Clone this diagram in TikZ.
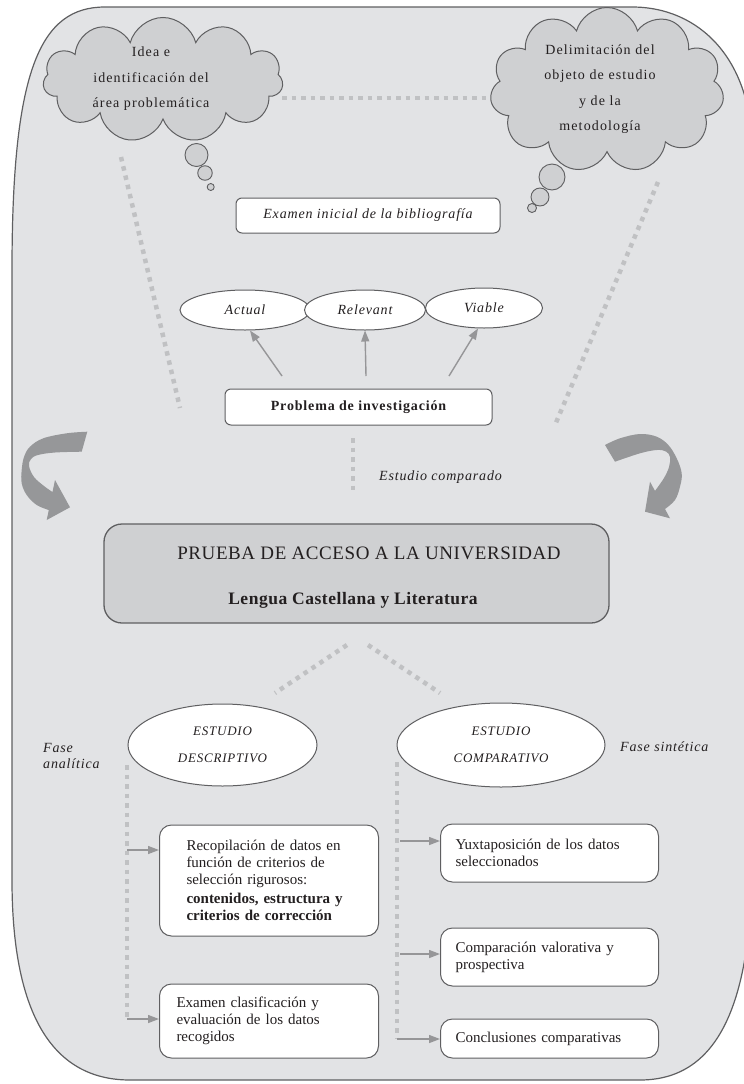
\documentclass[tikz,border=0pt]{standalone}
\usepackage{fontspec}
\setmainfont{Liberation Serif}
\newfontfamily\spaced[LetterSpace=6]{Liberation Serif}
\newfontfamily\spacedsm[LetterSpace=3]{Liberation Serif}
\newfontfamily\wide[LetterSpace=8]{Liberation Serif}
\usetikzlibrary{shapes.symbols,shapes.geometric,arrows.meta,calc}
\definecolor{bgfill}{RGB}{226,227,229}
\definecolor{frameline}{RGB}{95,95,97}
\definecolor{cloudfill}{RGB}{207,208,210}
\definecolor{dotgray}{RGB}{192,193,195}
\definecolor{arrgray}{RGB}{150,150,152}
\definecolor{ribbon}{RGB}{150,151,153}
\definecolor{txt}{RGB}{35,31,32}
\begin{document}
\begin{tikzpicture}[x=1pt,y=-1pt,
  frame/.style={draw=frameline, line width=1.2pt, fill=bgfill},
  cloudbox/.style={cloud, cloud puffs=11, cloud ignores aspect, draw=frameline, line width=1pt, fill=cloudfill, inner sep=0pt},
  bubble/.style={circle, draw=frameline, line width=0.9pt, fill=cloudfill, inner sep=0pt},
  dots/.style={dotgray, line width=4.5pt, dash pattern=on 4.5pt off 5pt},
  whitebox/.style={rectangle, rounded corners=6pt, draw=frameline, line width=1pt, fill=white, text=txt},
  softbox/.style={whitebox, rounded corners=12pt, align=left, anchor=west},
  oval/.style={ellipse, draw=frameline, line width=1pt, fill=white, inner sep=0pt, text=txt},
  garrow/.style={arrgray, line width=1.4pt, -{Triangle[length=11pt,width=8pt]}},
  label/.style={text=txt, inner sep=0pt}
]
\useasboundingbox (0,0) rectangle (744,1084);
\clip (0,0) rectangle (744,1084);

% outer frame
\draw[frame] (105,7) -- (632,7) .. controls (700,7) and (752,60) .. (752,150)
  -- (752,860) .. controls (752,1010) and (715,1080) .. (640,1080)
  -- (130,1080) .. controls (50,1080) and (12,1010) .. (12,880)
  -- (12,270) .. controls (12,70) and (40,7) .. (105,7) -- cycle;

% dotted guide lines
\coordinate (h1) at (282,98);  \coordinate (h2) at (490,98);
\coordinate (l1) at (121,157); \coordinate (l2) at (180,408);
\coordinate (r1) at (658,182); \coordinate (r2) at (555,425);
\coordinate (v1) at (353,438); \coordinate (v2) at (353,492);
\coordinate (d1) at (347,645); \coordinate (d2) at (275,693);
\coordinate (e1) at (368,645); \coordinate (e2) at (440,693);
\draw[dots] (h1) -- (h2);
\draw[dots] (l1) -- (l2);
\draw[dots] (r1) -- (r2);
\draw[dots] (v1) -- (v2);
\draw[dots] (d1) -- (d2);
\draw[dots] (e1) -- (e2);

% clouds
\node[cloudbox, minimum width=240pt, minimum height=125pt] (c1) at (163,80) {};
\node[label, align=center, font=\wide\fontsize{14}{25.5}\selectfont] (t1) at (151,79)
  {Idea e\\identificación del\\área problemática};
\node[bubble, minimum size=23pt] (b1) at (196.5,155) {};
\node[bubble, minimum size=14.5pt] (b2) at (205,173) {};
\node[bubble, minimum size=7pt] (b3) at (210.7,187) {};

\node[cloudbox, minimum width=234pt, minimum height=165pt] (c2) at (607,90) {};
\node[label, align=center, font=\wide\fontsize{14}{25.5}\selectfont] (t2) at (600,89)
  {Delimitación del\\objeto de estudio\\y de la\\metodología};
\node[bubble, minimum size=26pt] (b4) at (552,177) {};
\node[bubble, minimum size=18pt] (b5) at (540,197) {};
\node[bubble, minimum size=9pt] (b6) at (532,208) {};

% examen inicial
\node[whitebox, minimum width=264pt, minimum height=35pt, font=\spaced\itshape\fontsize{14}{16}\selectfont] (exam) at (368,215.5) {Examen inicial de la bibliografía};

% ellipses
\node[oval, minimum width=130pt, minimum height=40pt, font=\spaced\itshape\fontsize{14}{16}\selectfont] (act) at (245,310) {Actual};
\node[oval, minimum width=121pt, minimum height=40pt, font=\spaced\itshape\fontsize{14}{16}\selectfont] (rel) at (365,310) {Relevant};
\node[oval, minimum width=117pt, minimum height=40pt, font=\spaced\itshape\fontsize{14}{16}\selectfont] (via) at (484,308) {Viable};

% problema
\node[whitebox, minimum width=267pt, minimum height=36pt, font=\spaced\bfseries\fontsize{14}{16}\selectfont] (prob) at (358.5,407) {Problema de investigación};
\coordinate (pa) at (282,376);
\coordinate (pb) at (366,376);
\coordinate (pc) at (449,376);
\draw[garrow] (pa) -- ([xshift=5pt]act.south);
\draw[garrow] (pb) -- (rel.south);
\draw[garrow] (pc) -- ([xshift=-6pt]via.south);

\node[label, anchor=base west, font=\spaced\itshape\fontsize{14}{16}\selectfont] (estc) at (379,480) {Estudio comparado};

% curved ribbon arrows
\fill[ribbon] plot[smooth, tension=0.6] coordinates {(87.3,431.7) (66.7,433.3) (43.3,438.3) (30,446.7) (24,457) (21.7,470) (21.7,483.3) (26.7,495) (36.7,505) (48.8,510)}
  -- (46.7,520) -- (70,507.3) -- (55,480) -- (52.5,492)
  -- plot[smooth, tension=0.6] coordinates {(52.5,492) (44,486) (34,477) (29,466) (31,459) (38,455) (55,452.5) (81.7,451.7)} -- cycle;
\fill[ribbon] plot[smooth, tension=0.6] coordinates {(605,445) (620,438.3) (640,434) (656.7,436.7) (668.3,445) (676.7,458.3) (681.7,473.3) (680,486.7) (675,500) (665,509)}
  -- (670,518.3) -- (645,511.7) -- (650,481.7) -- (655,490.9)
  -- plot[smooth, tension=0.6] coordinates {(655,490.9) (664,478) (669,467) (670,457) (666,451.5) (656.7,450) (640,453.3) (615,461.7)} -- cycle;

% PRUEBA box
\node[rectangle, rounded corners=18pt, draw=frameline, line width=1.3pt, fill=cloudfill, minimum width=505pt, minimum height=99pt] (pau) at (356.5,573.5) {};
\node[label, anchor=base, font=\spacedsm\fontsize{19}{22}\selectfont] (pau1) at (369,559) {PRUEBA DE ACCESO A LA UNIVERSIDAD};
\node[label, anchor=base, font=\spacedsm\bfseries\fontsize{17.5}{22}\selectfont] (pau2) at (353,604) {Lengua Castellana y Literatura};

% study ellipses
\node[oval, minimum width=189pt, minimum height=82pt, align=center, font=\spaced\itshape\fontsize{13}{27}\selectfont] (desc) at (222.5,745) {ESTUDIO\\DESCRIPTIVO};
\node[oval, minimum width=208pt, minimum height=84pt, align=center, font=\spaced\itshape\fontsize{13}{27}\selectfont] (comp) at (501,745) {ESTUDIO\\COMPARATIVO};

\node[label, anchor=west, align=left, font=\spaced\itshape\fontsize{14}{16.5}\selectfont] (fan) at (43,756) {Fase\\analítica};
\node[label, anchor=base west, font=\spaced\itshape\fontsize{14}{16.5}\selectfont] (fsi) at (620,751) {Fase sintética};

% left column
\coordinate (ltop) at (127,765);
\coordinate (lbot) at (127,1019);
\draw[dots] (ltop) -- (lbot);
\node[softbox, minimum width=219pt, minimum height=111pt, text width=165pt, inner xsep=27pt, font=\fontsize{15}{17}\selectfont] (rec) at (159,880.5)
  {Recopilación de datos en\\función de criterios de\\selección rigurosos:\\[1.5pt]\textbf{contenidos, estructura y}\\\textbf{criterios de corrección}};
\node[softbox, minimum width=219pt, minimum height=74pt, text width=185pt, inner xsep=17pt, font=\fontsize{15}{17}\selectfont] (clas) at (159,1021)
  {Examen clasificación y\\evaluación de los datos\\recogidos};
\coordinate (la1) at (127,850);
\draw[garrow] (la1) -- (la1 -| rec.west);
\draw[garrow] (lbot) -- (lbot -| clas.west);

% right column
\coordinate (rtop) at (397,762);
\coordinate (rbot) at (397,1039);
\draw[dots] (rtop) -- (rbot);
\node[softbox, minimum width=218pt, minimum height=58pt, text width=188pt, inner xsep=15pt, font=\fontsize{15}{17}\selectfont] (yux) at (440,853)
  {Yuxtaposición de los datos\\seleccionados};
\node[softbox, minimum width=218pt, minimum height=58pt, text width=188pt, inner xsep=15pt, font=\fontsize{15}{17}\selectfont] (cmp) at (440,957)
  {Comparación valorativa y\\prospectiva};
\node[softbox, minimum width=218pt, minimum height=39pt, text width=188pt, inner xsep=15pt, font=\fontsize{15}{17}\selectfont] (conc) at (440,1038.5)
  {Conclusiones comparativas};
\coordinate (ra1) at (400,841);
\coordinate (ra2) at (400,954);
\draw[garrow] (ra1) -- (ra1 -| yux.west);
\draw[garrow] (ra2) -- (ra2 -| cmp.west);
\draw[garrow] (rbot) -- (rbot -| conc.west);
\end{tikzpicture}
\end{document}
